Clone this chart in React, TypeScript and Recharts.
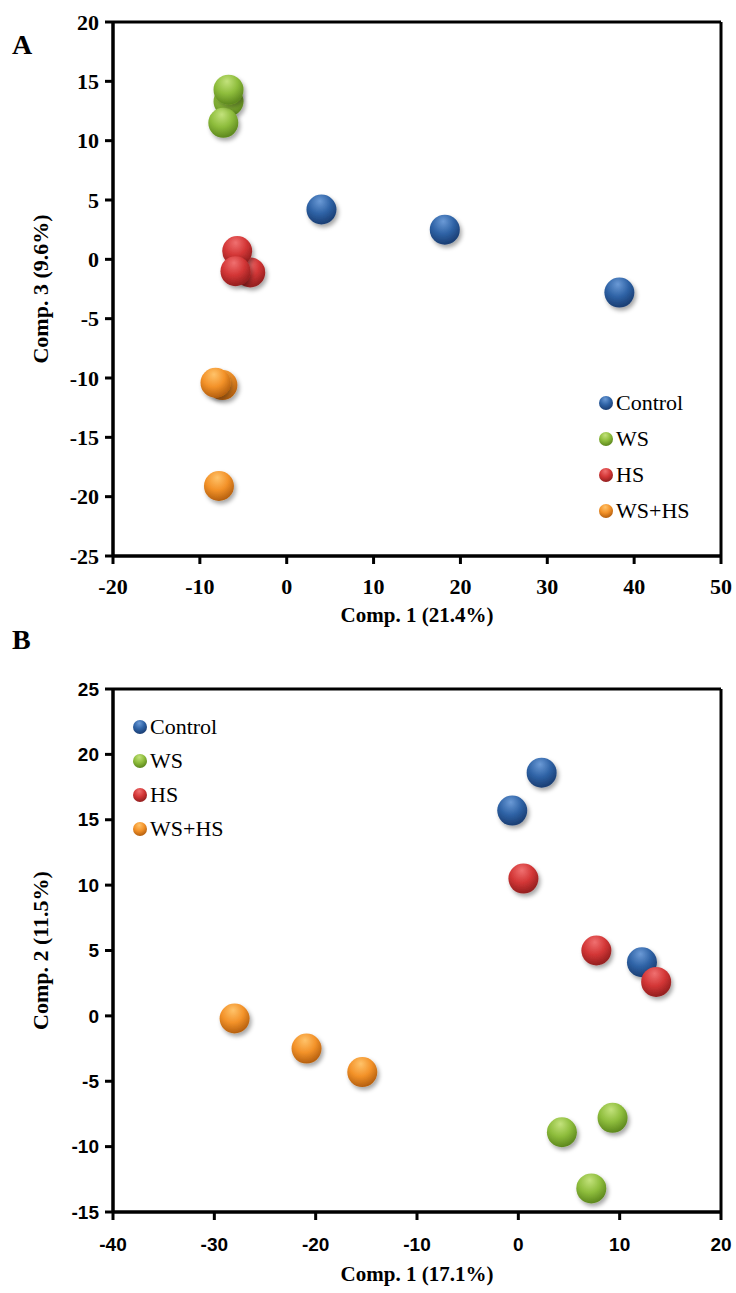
import { Label, ReferenceLine, Scatter, ScatterChart, XAxis, YAxis } from 'recharts'

// group names and colours
const GROUPS = ['Control', 'WS', 'HS', 'WS+HS']

const TONES: Record<string, { light: string; base: string; dark: string }> = {
  Control: { light: '#6b9ad6', base: '#2f63a6', dark: '#1b3f75' },
  WS: { light: '#c3e27c', base: '#8ebd3c', dark: '#5f8a1f' },
  HS: { light: '#f07070', base: '#d33636', dark: '#962020' },
  'WS+HS': { light: '#ffc36a', base: '#f39229', dark: '#b86210' },
}

// panel A: Comp. 1 vs Comp. 3
const A_CONTROL = [
  { x: 4.0, y: 4.2 },
  { x: 18.2, y: 2.5 },
  { x: 38.3, y: -2.8 },
]
const A_WS = [
  { x: -6.7, y: 13.3 },
  { x: -7.3, y: 11.5 },
  { x: -6.7, y: 14.3 },
]
const A_HS = [
  { x: -4.2, y: -1.1 },
  { x: -5.7, y: 0.7 },
  { x: -5.9, y: -1.0 },
]
const A_WSHS = [
  { x: -7.4, y: -10.6 },
  { x: -8.2, y: -10.4 },
  { x: -7.8, y: -19.1 },
]
const A_XTICKS = [-20, -10, 0, 10, 20, 30, 40, 50]
const A_YTICKS = [-25, -20, -15, -10, -5, 0, 5, 10, 15, 20]

// panel B: Comp. 1 vs Comp. 2
const B_CONTROL = [
  { x: 2.3, y: 18.6 },
  { x: -0.6, y: 15.7 },
  { x: 12.2, y: 4.1 },
]
const B_WS = [
  { x: 4.3, y: -8.9 },
  { x: 9.3, y: -7.8 },
  { x: 7.2, y: -13.2 },
]
const B_HS = [
  { x: 0.5, y: 10.5 },
  { x: 7.7, y: 5.0 },
  { x: 13.6, y: 2.6 },
]
const B_WSHS = [
  { x: -28.0, y: -0.2 },
  { x: -20.9, y: -2.5 },
  { x: -15.4, y: -4.3 },
]
const B_XTICKS = [-40, -30, -20, -10, 0, 10, 20]
const B_YTICKS = [-15, -10, -5, 0, 5, 10, 15, 20, 25]

const SERIF = "'Times New Roman', 'Liberation Serif', serif"
const SANS = "Arial, 'Liberation Sans', sans-serif"

const gradId = (g: string) => `sphere-${g.replace('+', '-')}`

function SphereDefs() {
  return (
    <svg width={0} height={0} style={{ position: 'absolute' }}>
      <defs>
        {GROUPS.map((g) => (
          <radialGradient key={g} id={gradId(g)} cx="42%" cy="30%" r="68%" fx="45%" fy="22%">
            <stop offset="0%" stopColor={TONES[g].light} />
            <stop offset="55%" stopColor={TONES[g].base} />
            <stop offset="100%" stopColor={TONES[g].dark} />
          </radialGradient>
        ))}
        <filter id="sphere-shadow" x="-50%" y="-50%" width="200%" height="200%">
          <feDropShadow dx="2" dy="3" stdDeviation="2" floodColor="#000" floodOpacity="0.35" />
        </filter>
      </defs>
    </svg>
  )
}

function Sphere({ cx, cy, group, r }: { cx?: number; cy?: number; group: string; r: number }) {
  if (cx == null || cy == null) return null
  return <circle cx={cx} cy={cy} r={r} fill={`url(#${gradId(group)})`} filter="url(#sphere-shadow)" />
}

function LegendBox({ rowGap, fontSize }: { rowGap: number; fontSize: number }) {
  return (
    <div style={{ fontFamily: SERIF, fontSize, color: '#000' }}>
      {GROUPS.map((g) => (
        <div key={g} style={{ display: 'flex', alignItems: 'center', height: rowGap }}>
          <svg width={16} height={16} style={{ marginRight: 2 }}>
            <circle cx={8} cy={8} r={7} fill={`url(#${gradId(g)})`} />
          </svg>
          <span>{g}</span>
        </div>
      ))}
    </div>
  )
}

function XTick({ x, y, payload, font, size }: any) {
  return (
    <text x={x} y={y} dy="0.71em" textAnchor="middle" fontFamily={font} fontSize={size} fontWeight="bold" fill="#000">
      {payload.value}
    </text>
  )
}

function YTick({ x, y, payload, font, size }: any) {
  return (
    <text x={x} y={y} dy="0.35em" textAnchor="end" fontFamily={font} fontSize={size} fontWeight="bold" fill="#000">
      {payload.value}
    </text>
  )
}

function YTitle({ viewBox, text, tx }: { viewBox?: any; text: string; tx: number }) {
  if (!viewBox) return null
  const cy = viewBox.y + viewBox.height / 2
  return (
    <text
      x={tx}
      y={cy}
      transform={`rotate(-90 ${tx} ${cy})`}
      textAnchor="middle"
      dominantBaseline="central"
      fontFamily={SERIF}
      fontWeight="bold"
      fontSize={22}
      fill="#000"
    >
      {text}
    </text>
  )
}

interface PanelProps {
  top: number
  height: number
  marginTop: number
  xAxisHeight: number
  xDomain: [number, number]
  yDomain: [number, number]
  xTicks: number[]
  yTicks: number[]
  tickFont: string
  tickSize: number
  xTickMargin: number
  titleOffset: number
  xTitle: string
  yTitle: string
  series: { x: number; y: number }[][]
  legendTop: number
  legendLeft: number
  legendGap: number
}

function Panel(p: PanelProps) {
  return (
    <div style={{ position: 'absolute', left: 0, top: p.top, width: 736, height: p.height }}>
      <ScatterChart
        width={736}
        height={p.height}
        margin={{ top: p.marginTop, right: 15, bottom: 0, left: 0 }}
      >
        <XAxis
          type="number"
          dataKey="x"
          domain={p.xDomain}
          ticks={p.xTicks}
          interval={0}
          height={p.xAxisHeight}
          tick={<XTick font={p.tickFont} size={p.tickSize} />}
          tickSize={8}
          tickMargin={p.xTickMargin}
          axisLine={{ stroke: '#000', strokeWidth: 3.5 }}
          tickLine={{ stroke: '#000', strokeWidth: 3 }}
        >
          <Label
            value={p.xTitle}
            position="insideBottom"
            offset={p.titleOffset}
            style={{ fontFamily: SERIF, fontWeight: 'bold', fontSize: 21, fill: '#000' }}
          />
        </XAxis>
        <YAxis
          type="number"
          dataKey="y"
          domain={p.yDomain}
          ticks={p.yTicks}
          interval={0}
          width={113}
          tick={<YTick font={p.tickFont} size={p.tickSize} />}
          tickSize={8}
          tickMargin={6}
          axisLine={{ stroke: '#000', strokeWidth: 3.5 }}
          tickLine={{ stroke: '#000', strokeWidth: 3 }}
        >
          <Label content={<YTitle text={p.yTitle} tx={40} />} />
        </YAxis>
        <ReferenceLine y={p.yDomain[1]} stroke="#000" strokeWidth={3} />
        <ReferenceLine x={p.xDomain[1]} stroke="#000" strokeWidth={3} />
        {p.series.map((data, i) => (
          <Scatter
            key={GROUPS[i]}
            name={GROUPS[i]}
            data={data}
            isAnimationActive={false}
            shape={(s: any) => <Sphere cx={s.cx} cy={s.cy} group={GROUPS[i]} r={15} />}
          />
        ))}
      </ScatterChart>
      <div style={{ position: 'absolute', left: p.legendLeft, top: p.legendTop }}>
        <LegendBox rowGap={p.legendGap} fontSize={22} />
      </div>
    </div>
  )
}

const letterStyle = {
  position: 'absolute' as const,
  left: 12,
  fontFamily: SERIF,
  fontWeight: 'bold',
  fontSize: 28,
  lineHeight: '30px',
}

export default function App() {
  return (
    <div style={{ position: 'absolute', left: 0, top: 0, width: 736, height: 1293, background: '#fff' }}>
      <SphereDefs />
      <div style={{ ...letterStyle, top: 30 }}>A</div>
      <div style={{ ...letterStyle, top: 625 }}>B</div>
      <Panel
        top={0}
        height={628}
        marginTop={22}
        xAxisHeight={72}
        xDomain={[-20, 50]}
        yDomain={[-25, 20]}
        xTicks={A_XTICKS}
        yTicks={A_YTICKS}
        tickFont={SERIF}
        tickSize={22}
        xTickMargin={14}
        titleOffset={6}
        xTitle="Comp. 1 (21.4%)"
        yTitle="Comp. 3 (9.6%)"
        series={[A_CONTROL, A_WS, A_HS, A_WSHS]}
        legendTop={385}
        legendLeft={598}
        legendGap={36}
      />
      <Panel
        top={660}
        height={633}
        marginTop={29}
        xAxisHeight={81}
        xDomain={[-40, 20]}
        yDomain={[-15, 25]}
        xTicks={B_XTICKS}
        yTicks={B_YTICKS}
        tickFont={SANS}
        tickSize={19}
        xTickMargin={18}
        titleOffset={12}
        xTitle="Comp. 1 (17.1%)"
        yTitle="Comp. 2 (11.5%)"
        series={[B_CONTROL, B_WS, B_HS, B_WSHS]}
        legendTop={50}
        legendLeft={132}
        legendGap={34}
      />
    </div>
  )
}
